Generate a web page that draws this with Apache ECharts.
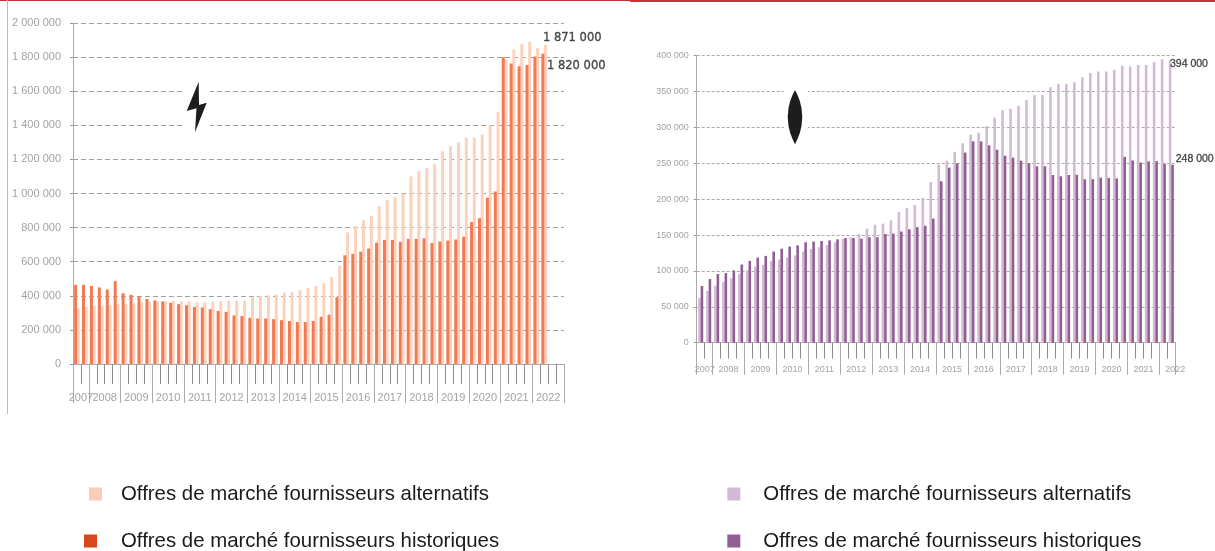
<!DOCTYPE html>
<html>
<head>
<meta charset="utf-8">
<title>Offres de marché</title>
<script src="https://cdn.jsdelivr.net/npm/echarts@6/dist/echarts.min.js"></script>
<style>
  html, body { margin: 0; padding: 0; background: #fff; }
  .chart { position: absolute; top: 0; height: 551px; }
  #elec { left: 0; width: 630px; }
  #gaz { left: 630px; width: 585px; }
</style>
</head>
<body>
<div id="elec" class="chart"></div>
<div id="gaz" class="chart"></div>
<script>
var years = ['2007','2008','2009','2010','2011','2012','2013','2014','2015','2016','2017','2018','2019','2020','2021','2022'];
var legendAlt = 'Offres de marché fournisseurs alternatifs';
var legendHist = 'Offres de marché fournisseurs historiques';

// nombre de trimestres par annee sur chaque axe
var elecQuarters = [2,4,4,4,4,4,4,4,4,4,4,4,4,4,4,4];
var gazQuarters = [2,4,4,4,4,4,4,4,4,4,4,4,4,4,4,2];

var elecHist = [
  464000,464000,458000,449000,437000,486000,415000,406000,396000,382000,
  373000,367000,359000,351000,345000,334000,332000,322000,312000,306000,
  285000,281000,271000,267000,267000,263000,257000,252000,246000,246000,
  252000,277000,289000,392000,638000,646000,659000,677000,712000,728000,
  728000,716000,734000,734000,737000,710000,718000,724000,730000,747000,
  833000,855000,976000,1012000,1799000,1762000,1746000,1754000,1803000,1820000
];
var elecAlt = [
  326000,334000,339000,339000,345000,351000,351000,357000,363000,365000,
  367000,369000,371000,367000,367000,361000,363000,365000,369000,371000,
  371000,371000,394000,398000,404000,408000,419000,421000,433000,445000,
  458000,474000,509000,577000,772000,808000,843000,868000,926000,961000,
  980000,1000000,1100000,1131000,1148000,1172000,1248000,1277000,1301000,1328000,
  1328000,1346000,1400000,1478000,1785000,1844000,1879000,1890000,1853000,1871000
];
var gazHist = [
  79000,88700,95700,97000,100800,109000,114000,118500,121000,127000,
  131000,134000,135700,140000,141000,141700,142600,144000,146000,146000,
  145000,147000,147000,151500,152000,155000,158000,161000,163000,173000,
  225000,244000,250000,265000,280600,280600,275000,269000,260600,258000,
  253700,250000,245800,245800,233700,232000,233700,234000,227700,228000,
  230000,229500,229000,259000,254000,251000,252700,253000,249500,248000
];
var gazAlt = [
  62000,72000,79400,84600,90000,95700,101000,106000,108700,114000,
  116000,119000,121700,127000,130500,133000,136000,140000,144500,147000,
  151500,159000,164500,166000,170500,182000,188000,192000,201600,224000,
  248000,253700,266000,278000,290000,292700,302000,313600,324000,326000,
  330000,338000,345000,345000,356000,361000,361000,363000,370000,376000,
  378000,378000,380500,386000,385000,387000,387000,391000,395000,394000
];

function spaced(v) {
  return String(v).replace(/\B(?=(\d{3})+$)/g, ' ');
}

function quarterNames(quarters) {
  var names = [];
  quarters.forEach(function (q, i) {
    for (var k = 0; k < q; k++) {
      names.push(years[i] + '-' + k);
    }
  });
  return names;
}

function yearTicks(quarters) {
  var ticks = [0], pos = 0;
  quarters.forEach(function (q) {
    pos += q;
    ticks.push(pos);
  });
  return ticks;
}

function legendItem(name, color, left, top, gap) {
  return {
    left: left,
    top: top,
    icon: 'rect',
    itemWidth: 13,
    itemHeight: 13,
    padding: 0,
    selectedMode: false,
    data: [{ name: name, itemStyle: { color: color } }],
    textStyle: {
      color: '#1a1a1a',
      fontFamily: 'Liberation Sans',
      fontSize: 20.4,
      padding: [0, 0, 0, gap]
    }
  };
}

// axe invisible qui ne porte que des libelles d'annee
function yearAxis(c, count, positions, labels, ticks) {
  return {
    type: 'value',
    position: 'bottom',
    min: 0,
    max: count,
    axisLine: { show: false },
    axisTick: { show: !!ticks, length: c.longTick, customValues: ticks || [], lineStyle: { color: '#aaaaaa' } },
    axisLabel: {
      show: true,
      customValues: positions,
      margin: c.labelMargin,
      color: '#a3a3a3',
      fontFamily: 'Liberation Sans',
      fontSize: c.fontSize,
      hideOverlap: false,
      showMinLabel: true,
      showMaxLabel: true,
      formatter: function (v) { return labels[v]; }
    },
    splitLine: { show: false }
  };
}

// petits traits a chaque trimestre
function quarterAxis(c, count) {
  var all = [];
  for (var i = 0; i <= count; i++) {
    all.push(i);
  }
  return {
    type: 'value',
    position: 'bottom',
    min: 0,
    max: count,
    axisLine: { show: false },
    axisTick: { show: true, length: c.shortTick, customValues: all, lineStyle: { color: '#8c8c8c' } },
    axisLabel: { show: false },
    splitLine: { show: false }
  };
}

function buildOption(c) {
  var names = quarterNames(c.quarters);
  var ticks = yearTicks(c.quarters);
  // position des libelles d'annee : milieu de chaque annee
  var labelPos = [];
  var labelYear = {};
  c.quarters.forEach(function (q, i) {
    var p = ticks[i] + q / 2;
    if (i === years.length - 1 && c.lastYearAtEnd) p = ticks[i + 1];
    labelPos.push(p);
    labelYear[p] = years[i];
  });

  return {
    animation: false,
    legend: c.legends,
    grid: { left: c.left, top: c.top, width: c.width, height: c.height },
    xAxis: [
      {
        type: 'category',
        data: names,
        boundaryGap: true,
        axisLine: { lineStyle: { color: '#aaaaaa', width: 1 } },
        axisTick: { show: false },
        axisLabel: { show: false },
        splitLine: { show: false }
      },
      quarterAxis(c, names.length),
      yearAxis(c, names.length, labelPos.slice(1), labelYear, ticks),
      // 2007 a part : il touche 2008 et ECharts masquerait l'un des deux
      yearAxis(c, names.length, labelPos.slice(0, 1), labelYear, null)
    ],
    yAxis: {
      type: 'value',
      min: 0,
      max: c.max,
      interval: c.interval,
      axisLine: { show: true, lineStyle: { color: '#aaaaaa', width: 1 } },
      axisTick: { show: true, length: 3, lineStyle: { color: '#999999' } },
      axisLabel: {
        margin: c.yMargin,
        color: '#a3a3a3',
        fontFamily: 'Liberation Sans',
        fontSize: c.fontSize,
        formatter: spaced
      },
      splitLine: { show: true, lineStyle: { color: c.gridColor, type: c.gridDash, width: 1 } }
    },
    series: c.series,
    graphic: c.graphic
  };
}

function annotation(text, x, y, font) {
  return {
    type: 'text',
    x: x,
    y: y,
    z: 12,
    style: {
      text: text, fill: '#454545', stroke: '#454545', lineWidth: 0.3,
      font: font, verticalAlign: 'middle'
    }
  };
}

window.onload = function () {
  var elecOption = buildOption({
    quarters: elecQuarters,
    left: 73, top: 23, width: 491, height: 341,
    max: 2000000, interval: 200000,
    shortTick: 20, longTick: 39, labelMargin: 28, yMargin: 12, fontSize: 11,
    gridColor: '#a0a0a0', gridDash: [5, 3],
    legends: [
      legendItem(legendAlt, '#f9cdb7', 89, 484, 14),
      legendItem(legendHist, '#d9481c', 84, 531, 19)
    ],
    series: [
      { name: legendHist, type: 'bar', data: elecHist, barWidth: 3, barGap: '-10%', z: 3,
        itemStyle: { color: '#f27a52' } },
      { name: legendAlt, type: 'bar', data: elecAlt, barWidth: 3, barGap: '-10%', z: 2,
        itemStyle: { color: '#fcd2bd' } }
    ],
    graphic: [
      { type: 'rect', z: 10, shape: { x: 0, y: 0, width: 630, height: 1 }, style: { fill: '#c8303a' } },
      { type: 'rect', z: 10, shape: { x: 7, y: 0, width: 1, height: 414 }, style: { fill: '#bbbbbb' } },
      { type: 'rect', z: 10, shape: { x: 184, y: 84, width: 26, height: 46 }, style: { fill: '#ffffff' } },
      { type: 'polygon', z: 11,
        shape: { points: [[198.7,81.7],[186.7,111],[196.5,108.3],[195,132.3],[206.7,102.7],[199,105]] },
        style: { fill: '#1f1c1d' } },
      annotation('1 871 000', 543, 38, '11.5px "DejaVu Sans"'),
      annotation('1 820 000', 547, 66, '11.5px "DejaVu Sans"')
    ]
  });

  var gazOption = buildOption({
    quarters: gazQuarters,
    lastYearAtEnd: true,
    left: 66.7, top: 55.7, width: 478.6, height: 287,
    max: 400000, interval: 50000,
    shortTick: 16, longTick: 32, labelMargin: 22, yMargin: 8, fontSize: 9,
    gridColor: '#aaaaaa', gridDash: [3, 2],
    legends: [
      legendItem(legendAlt, '#d4b9d6', 97.3, 484, 18),
      legendItem(legendHist, '#8f5f92', 97.3, 531, 18)
    ],
    series: [
      { name: legendAlt, type: 'bar', data: gazAlt, barWidth: 2.6, barGap: '-5%', z: 2,
        itemStyle: { color: '#d4b9d6' } },
      { name: legendHist, type: 'bar', data: gazHist, barWidth: 2.6, barGap: '-5%', z: 3,
        itemStyle: { color: '#8f5f92' } }
    ],
    graphic: [
      { type: 'rect', z: 10, shape: { x: 0, y: 0, width: 585, height: 2 }, style: { fill: '#c8303a' } },
      { type: 'rect', z: 10, shape: { x: 154, y: 85, width: 24, height: 60 }, style: { fill: '#ffffff' } },
      { type: 'polygon', z: 11,
        shape: { points: [[165,90],[167.5,95],[169.8,101],[171.5,108],[172.3,117],[171.5,126],[169.8,133],[167.5,139],[165,144.3],[162.5,139],[160.2,133],[158.5,126],[157.7,117],[158.5,108],[160.2,101],[162.5,95]] },
        style: { fill: '#1f1c1d' } },
      annotation('394 000', 540, 64, '10.5px "Liberation Sans"'),
      annotation('248 000', 545.7, 159, '10.5px "Liberation Sans"')
    ]
  });

  echarts.init(document.getElementById('elec')).setOption(elecOption);
  echarts.init(document.getElementById('gaz')).setOption(gazOption);
};
</script>
</body>
</html>
